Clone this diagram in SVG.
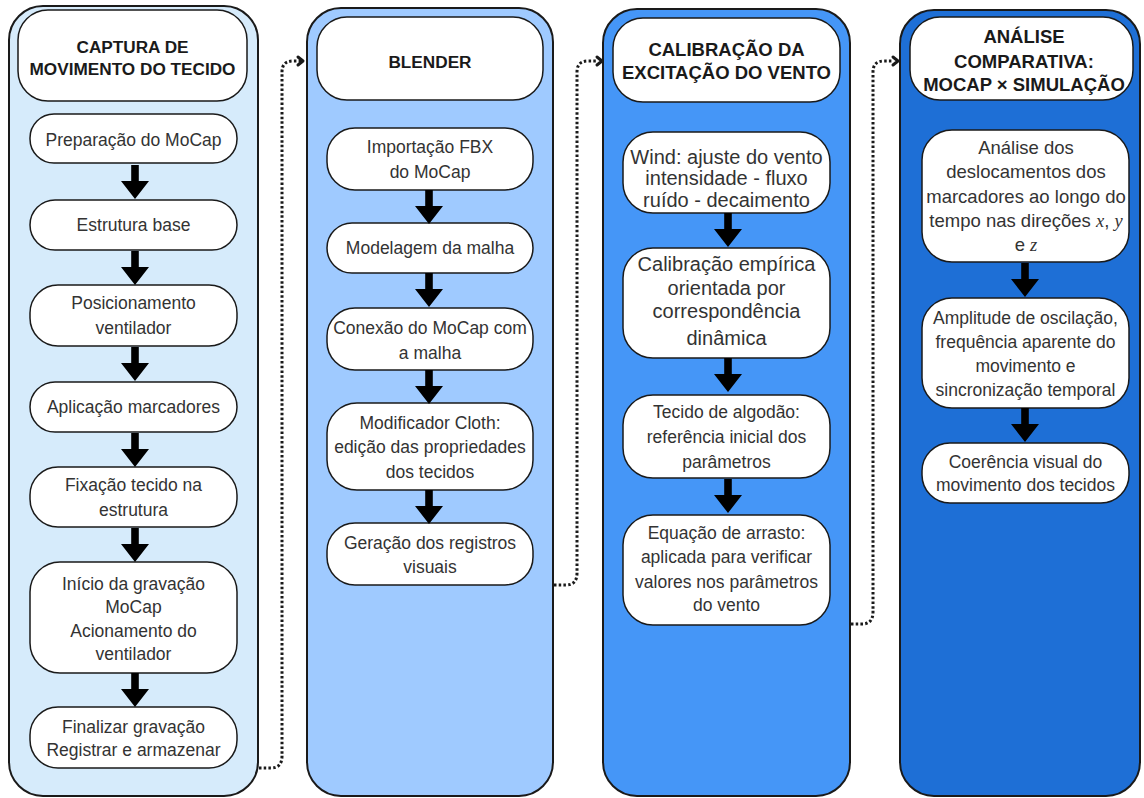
<svg xmlns="http://www.w3.org/2000/svg" width="1144" height="798" viewBox="0 0 1144 798">
<style>
.col{stroke:#1a1a1a;stroke-width:2}
.c1{fill:#d6ebfb}.c2{fill:#9fcaff}.c3{fill:#4596f7}.c4{fill:#1e6fd6}
.node{fill:#ffffff;stroke:#1a1a1a;stroke-width:1.5}
.t{font-family:"Liberation Sans",Arial,sans-serif;font-size:17.5px;fill:#333333;text-anchor:middle}
.big{font-size:18.5px}
.bg2{font-size:20px}
.h{font-family:"Liberation Sans",Arial,sans-serif;font-size:17.2px;font-weight:bold;fill:#1a1a1a;text-anchor:middle}
.hb{font-size:18.5px}
.m{font-family:"Liberation Serif","Times New Roman",serif;font-style:italic}
.dot{fill:none;stroke:#1a1a1a;stroke-width:3;stroke-dasharray:2.5 2.2}
.chev{fill:none;stroke:#1a1a1a;stroke-width:3;stroke-linecap:round;stroke-linejoin:round}
.arr{fill:#000000}
</style>
<defs>
<path id="ba" d="M -3.8 0 H 3.8 V 16 H 14 L 0 34 L -14 16 H -3.8 Z"/>
</defs>

<g id="col1">
<rect class="col c1" x="9" y="6" width="249" height="790" rx="34"/>
<rect class="node" x="18" y="10" width="229" height="91" rx="30"/>
<text class="h" x="132.5" y="53">CAPTURA DE</text>
<text class="h" x="132.5" y="75">MOVIMENTO DO TECIDO</text>
</g>
<g id="n1a"><rect class="node" x="30" y="114" width="207" height="49" rx="24"/><text class="t" x="133.5" y="146">Preparação do MoCap</text></g>
<g id="n1b"><rect class="node" x="30" y="200" width="207" height="50" rx="25"/><text class="t" x="133.5" y="231">Estrutura base</text></g>
<g id="n1c"><rect class="node" x="30" y="285" width="207" height="61" rx="28"/><text class="t" x="133.5" y="309">Posicionamento</text><text class="t" x="133.5" y="334">ventilador</text></g>
<g id="n1d"><rect class="node" x="30" y="382" width="207" height="50" rx="25"/><text class="t" x="133.5" y="413">Aplicação marcadores</text></g>
<g id="n1e"><rect class="node" x="30" y="467" width="207" height="60" rx="28"/><text class="t" x="133.5" y="491">Fixação tecido na</text><text class="t" x="133.5" y="516">estrutura</text></g>
<g id="n1f"><rect class="node" x="30" y="562" width="207" height="111" rx="30"/><text class="t" x="133.5" y="590">Início da gravação</text><text class="t" x="133.5" y="613">MoCap</text><text class="t" x="133.5" y="637">Acionamento do</text><text class="t" x="133.5" y="660">ventilador</text></g>
<g id="n1g"><rect class="node" x="30" y="707" width="207" height="61" rx="28"/><text class="t" x="133.5" y="733">Finalizar gravação</text><text class="t" x="133.5" y="756">Registrar e armazenar</text></g>

<g id="col2">
<rect class="col c2" x="307" y="8" width="246" height="788" rx="34"/>
<rect class="node" x="317" y="17" width="226" height="83" rx="30"/>
<text class="h" x="430" y="68">BLENDER</text>
</g>
<g id="n2a"><rect class="node" x="327" y="128" width="206" height="62" rx="28"/><text class="t" x="430" y="153">Importação FBX</text><text class="t" x="430" y="178">do MoCap</text></g>
<g id="n2b"><rect class="node" x="327" y="223" width="206" height="50" rx="25"/><text class="t" x="430" y="254">Modelagem da malha</text></g>
<g id="n2c"><rect class="node" x="327" y="308" width="206" height="62" rx="28"/><text class="t" x="430" y="334">Conexão do MoCap com</text><text class="t" x="430" y="359">a malha</text></g>
<g id="n2d"><rect class="node" x="327" y="403" width="206" height="87" rx="30"/><text class="t" x="430" y="429">Modificador Cloth:</text><text class="t" x="430" y="453">edição das propriedades</text><text class="t" x="430" y="478">dos tecidos</text></g>
<g id="n2e"><rect class="node" x="327" y="523" width="206" height="62" rx="28"/><text class="t" x="430" y="549">Geração dos registros</text><text class="t" x="430" y="573">visuais</text></g>

<g id="col3">
<rect class="col c3" x="603" y="9" width="247" height="787" rx="34"/>
<rect class="node" x="613" y="18" width="227" height="84" rx="30"/>
<text class="h hb" x="726.5" y="56">CALIBRAÇÃO DA</text>
<text class="h hb" x="726.5" y="79">EXCITAÇÃO DO VENTO</text>
</g>
<g id="n3a"><rect class="node" x="623" y="132" width="207" height="81" rx="30"/><text class="t bg2" x="726.5" y="164">Wind: ajuste do vento</text><text class="t bg2" x="726.5" y="185">intensidade - fluxo</text><text class="t bg2" x="726.5" y="207">ruído - decaimento</text></g>
<g id="n3b"><rect class="node" x="623" y="248" width="207" height="110" rx="30"/><text class="t bg2" x="726.5" y="271">Calibração empírica</text><text class="t bg2" x="726.5" y="295">orientada por</text><text class="t bg2" x="726.5" y="318">correspondência</text><text class="t bg2" x="726.5" y="345">dinâmica</text></g>
<g id="n3c"><rect class="node" x="623" y="395" width="207" height="83" rx="30"/><text class="t" x="726.5" y="418">Tecido de algodão:</text><text class="t" x="726.5" y="443">referência inicial dos</text><text class="t" x="726.5" y="468">parâmetros</text></g>
<g id="n3d"><rect class="node" x="623" y="515" width="207" height="110" rx="30"/><text class="t" x="726.5" y="539">Equação de arrasto:</text><text class="t" x="726.5" y="563">aplicada para verificar</text><text class="t" x="726.5" y="588">valores nos parâmetros</text><text class="t" x="726.5" y="611">do vento</text></g>

<g id="col4">
<rect class="col c4" x="900" y="10" width="240" height="786" rx="34"/>
<rect class="node" x="910" y="17" width="223" height="83" rx="30"/>
<text class="h hb" x="1024" y="43">ANÁLISE</text>
<text class="h hb" x="1024" y="68">COMPARATIVA:</text>
<text class="h hb" x="1024" y="91">MOCAP × SIMULAÇÃO</text>
</g>
<g id="n4a"><rect class="node" x="922" y="130" width="207" height="132" rx="30"/><text class="t big" x="1026" y="154">Análise dos</text><text class="t big" x="1026" y="178">deslocamentos dos</text><text class="t big" x="1026" y="203">marcadores ao longo do</text><text class="t big" x="1026" y="227">tempo nas direções <tspan class="m">x</tspan>, <tspan class="m">y</tspan></text><text class="t big" x="1026" y="251">e <tspan class="m">z</tspan></text></g>
<g id="n4b"><rect class="node" x="922" y="298" width="207" height="110" rx="30"/><text class="t" x="1025.5" y="324">Amplitude de oscilação,</text><text class="t" x="1025.5" y="348">frequência aparente do</text><text class="t" x="1025.5" y="372">movimento e</text><text class="t" x="1025.5" y="396">sincronização temporal</text></g>
<g id="n4c"><rect class="node" x="922" y="443" width="207" height="60" rx="28"/><text class="t" x="1025.5" y="468">Coerência visual do</text><text class="t" x="1025.5" y="491">movimento dos tecidos</text></g>

<g id="connectors">
<use href="#ba" class="arr" x="135" y="165"/>
<use href="#ba" class="arr" x="135" y="251"/>
<use href="#ba" class="arr" x="135" y="347"/>
<use href="#ba" class="arr" x="135" y="433"/>
<use href="#ba" class="arr" x="135" y="528"/>
<use href="#ba" class="arr" x="135" y="673"/>
<use href="#ba" class="arr" x="429" y="190"/>
<use href="#ba" class="arr" x="429" y="273"/>
<use href="#ba" class="arr" x="429" y="370"/>
<use href="#ba" class="arr" x="429" y="490"/>
<use href="#ba" class="arr" x="728" y="213"/>
<use href="#ba" class="arr" x="728" y="358"/>
<use href="#ba" class="arr" x="728" y="479"/>
<use href="#ba" class="arr" x="1025" y="263"/>
<use href="#ba" class="arr" x="1025" y="408"/>
<path class="dot" d="M 259 768 H 271 Q 282 768 282 756 V 72 Q 282 61 293 61 H 301"/>
<path class="chev" d="M 298 57 L 303 61 L 298 65"/>
<path class="dot" d="M 554 585 H 566 Q 577 585 577 573 V 72 Q 577 61 588 61 H 597"/>
<path class="chev" d="M 597 57 L 602 61 L 597 65"/>
<path class="dot" d="M 851 624 H 862 Q 873 624 873 612 V 72 Q 873 61 884 61 H 893"/>
<path class="chev" d="M 893 57 L 898 61 L 893 65"/>
</g>
</svg>
